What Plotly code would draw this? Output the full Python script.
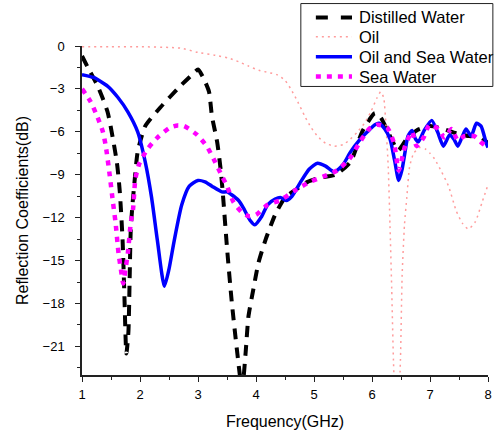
import plotly.graph_objects as go

# Reflection coefficient (dB) versus frequency (GHz) for four media
freq_distilled = [1.0, 1.1, 1.27, 1.44, 1.6, 1.65, 1.70, 1.73, 1.765, 1.80, 1.82, 1.84, 1.87, 1.91,
                  1.96, 2.09, 2.35, 2.67, 2.9, 3.0, 3.1, 3.19, 3.24, 3.33, 3.39, 3.43, 3.5, 3.58,
                  3.67, 3.76, 3.82, 3.87, 3.95, 4.04, 4.16, 4.33, 4.5, 4.7, 4.89, 5.1, 5.37,
                  5.63, 5.83, 6.05, 6.15, 6.3, 6.45, 6.6, 6.77, 7.0, 7.23, 7.45, 7.68, 7.85, 8.0]
s11_distilled = [-0.7, -1.5, -2.8, -4.6, -8.1, -10.1, -13.6, -17.3, -21.5, -20.0, -16.6, -12.9, -11.1, -9.3,
                 -7.4, -5.6, -4.3, -2.9, -2.0, -1.65, -2.3, -3.2, -4.9, -6.7, -8.6, -10.4, -14.1, -17.8,
                 -21.2, -24.0, -21.5, -18.9, -17.1, -15.2, -13.6, -11.8, -10.6, -10.0, -9.5, -9.2, -9.0,
                 -8.1, -6.0, -4.7, -5.0, -6.2, -7.3, -6.5, -5.9, -5.6, -5.8, -6.1, -6.3, -6.3, -6.8]

freq_oil = [1.0, 1.5, 2.0, 2.5, 2.7, 3.0, 3.3, 3.53, 3.7, 3.87, 4.05, 4.21, 4.36, 4.5, 4.6, 4.72,
            4.84, 4.95, 5.06, 5.2, 5.35, 5.5, 5.63, 5.75, 5.87, 5.98, 6.09, 6.15, 6.2, 6.24, 6.28,
            6.31, 6.34, 6.37, 6.43, 6.49, 6.52, 6.56, 6.6, 6.65, 6.72, 6.82, 6.92, 7.0, 7.08, 7.2,
            7.32, 7.45, 7.56, 7.66, 7.78, 7.9, 8.0]
s11_oil = [-0.05, -0.05, -0.05, -0.1, -0.15, -0.45, -0.65, -0.85, -1.1, -1.4, -1.7, -1.85, -2.0, -2.4, -3.0, -3.9,
           -4.9, -5.7, -6.3, -6.8, -7.0, -6.9, -6.5, -6.0, -5.4, -4.6, -3.6, -3.2, -3.6, -5.5, -8.5,
           -12.5, -17.0, -22.0, -28.0, -22.0, -16.0, -12.5, -10.6, -8.4, -7.5, -7.1, -7.2, -7.5, -7.9, -8.8,
           -9.8, -11.5, -12.4, -12.8, -12.3, -10.9, -9.7]

freq_oil_sea = [1.0, 1.2, 1.44, 1.62, 1.79, 1.96, 2.09, 2.2, 2.3, 2.42, 2.5, 2.59, 2.72, 2.85, 3.0,
                3.12, 3.24, 3.41, 3.5, 3.58, 3.7, 3.78, 3.9, 3.98, 4.1, 4.2, 4.33, 4.43, 4.52, 4.62,
                4.77, 4.92, 5.06, 5.2, 5.35, 5.5, 5.63, 5.78, 5.92, 6.05, 6.12, 6.22, 6.31, 6.39,
                6.46, 6.52, 6.57, 6.62, 6.69, 6.75, 6.8, 6.9, 7.03, 7.13, 7.23, 7.34, 7.41, 7.48,
                7.56, 7.62, 7.71, 7.8, 7.88, 7.97, 8.0]
s11_oil_sea = [-2.0, -2.2, -2.8, -3.6, -4.6, -6.0, -8.1, -10.6, -13.6, -16.8, -15.6, -13.6, -11.1, -9.8, -9.4,
               -9.5, -9.8, -10.2, -10.2, -10.4, -10.8, -11.3, -12.2, -12.5, -11.9, -11.1, -10.7, -10.6, -10.8, -10.5,
               -9.5, -8.6, -8.2, -8.4, -8.8, -8.3, -7.4, -6.6, -6.0, -5.5, -5.4, -5.8, -6.5, -8.0,
               -9.4, -8.6, -7.4, -6.3, -5.9, -6.5, -6.7, -5.9, -5.2, -6.0, -7.0, -6.2, -6.5, -7.0,
               -6.3, -5.8, -6.3, -5.4, -5.6, -6.8, -7.1]

freq_sea = [1.0, 1.15, 1.27, 1.36, 1.41, 1.48, 1.53, 1.58, 1.63, 1.67, 1.71, 1.75, 1.79, 1.84, 1.88,
            1.92, 1.99, 2.13, 2.30, 2.52, 2.65, 2.76, 2.98, 3.15, 3.27, 3.39, 3.50, 3.61, 3.75, 3.88,
            4.0, 4.2, 4.41, 4.67, 4.93, 5.18, 5.40, 5.61, 5.78, 5.95, 6.09, 6.26, 6.38, 6.46, 6.57,
            6.69, 6.77, 6.89, 6.99, 7.14, 7.25, 7.37, 7.48, 7.59, 7.76, 7.9, 8.0]
s11_sea = [-3.0, -3.9, -5.0, -6.0, -7.0, -9.1, -10.8, -12.4, -14.5, -15.6, -16.6, -15.6, -14.5, -12.4, -11.4,
           -9.3, -8.2, -7.2, -6.4, -5.7, -5.55, -5.6, -6.2, -7.0, -7.9, -8.9, -9.8, -10.9, -11.6, -11.9,
           -11.8, -11.1, -10.8, -10.1, -9.5, -9.1, -8.7, -7.9, -6.8, -5.8, -5.5, -5.7, -6.8, -8.7, -7.0,
           -6.0, -7.0, -6.4, -5.5, -5.8, -6.4, -5.8, -6.6, -6.3, -6.3, -6.8, -7.1]

series_names = ["Distilled Water", "Oil", "Oil and Sea Water", "Sea Water"]
y_ticks = [0, -3, -6, -9, -12, -15, -18, -21]
x_ticks = [1, 2, 3, 4, 5, 6, 7, 8]

FONT = "Liberation Sans, Arial"

# line style per series: colour, width, dash pattern
styles = [
    dict(color="#000000", width=4, dash="11px,8px"),
    dict(color="#ff9c9c", width=1.5, dash="2px,4px"),
    dict(color="#0000ff", width=3.5, dash="solid"),
    dict(color="#ff00ff", width=4.5, dash="5px,6px"),
]
series = [(freq_distilled, s11_distilled), (freq_oil, s11_oil),
          (freq_oil_sea, s11_oil_sea), (freq_sea, s11_sea)]

fig = go.Figure()
for name, (fx, fy), st in zip(series_names, series, styles):
    fig.add_trace(go.Scatter(x=fx, y=fy, name=name, mode="lines", showlegend=False,
                             line=dict(color=st["color"], width=st["width"], dash=st["dash"],
                                       shape="spline", smoothing=0.6)))

axis_common = dict(
    showline=True, linecolor="#222222", linewidth=1.5, mirror=False,
    ticks="outside", ticklen=5, tickwidth=1.2, tickcolor="#222222",
    showgrid=False, zeroline=False,
    tickfont=dict(family=FONT, size=13, color="#000000"),
)

fig.update_xaxes(range=[1, 8], tickvals=x_ticks, ticklabelstandoff=2,
                 minor=dict(dtick=0.5, ticks="outside", ticklen=3, tickcolor="#222222"),
                 title=dict(text="Frequency(GHz)", standoff=14,
                            font=dict(family=FONT, size=16, color="#000000")),
                 **axis_common)
fig.update_yaxes(range=[-23, 0], tickvals=y_ticks, ticklabelstandoff=8,
                 minor=dict(dtick=1.5, ticks="outside", ticklen=3, tickcolor="#222222"),
                 title=dict(text="Reflection Coefficients(dB)", standoff=10,
                            font=dict(family=FONT, size=16, color="#000000")),
                 **axis_common)

# Legend box drawn in paper coordinates (compact rows)
box_x0, box_x1, box_y0, box_y1 = 0.539, 1.012, 0.877, 1.129
row_y = [1.087, 1.028, 0.967, 0.907]
sample_x0, sample_x1, text_x = 0.576, 0.665, 0.677

shapes = [dict(type="rect", xref="paper", yref="paper", x0=box_x0, x1=box_x1, y0=box_y0, y1=box_y1,
               line=dict(color="#222222", width=1), fillcolor="#ffffff", layer="above")]
annotations = []
for name, st, ry in zip(series_names, styles, row_y):
    shapes.append(dict(type="line", xref="paper", yref="paper", x0=sample_x0, x1=sample_x1, y0=ry, y1=ry,
                       line=dict(color=st["color"], width=st["width"] if st["width"] > 2 else 1.5,
                                 dash="12px,13px" if st["dash"] == "11px,8px" else st["dash"]),
                       layer="above"))
    annotations.append(dict(xref="paper", yref="paper", x=text_x, y=ry, text=name, showarrow=False,
                            xanchor="left", yanchor="middle",
                            font=dict(family=FONT, size=16.5, color="#000000")))

fig.update_layout(
    width=498, height=434,
    margin=dict(l=82, r=6, t=46, b=55),
    paper_bgcolor="#ffffff", plot_bgcolor="#ffffff",
    shapes=shapes, annotations=annotations,
    showlegend=False,
)

fig.write_html("out.html")
